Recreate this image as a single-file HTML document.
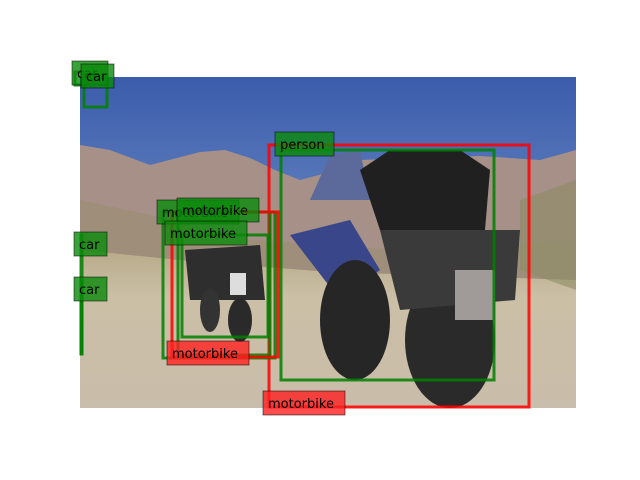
<!DOCTYPE html>
<html><head><meta charset="utf-8"><style>
html,body{margin:0;padding:0;background:#fff;width:640px;height:480px;overflow:hidden}
svg{display:block}
text{font-family:"DejaVu Sans","Liberation Sans",sans-serif;font-size:13px;fill:#000}
</style></head><body>
<svg id="chart" width="640" height="480">
<defs>
<linearGradient id="sky" x1="0" y1="0" x2="0" y2="1">
<stop offset="0" stop-color="#3a5cab"/><stop offset="1" stop-color="#94add8"/></linearGradient>
<linearGradient id="gnd" x1="0" y1="0" x2="0" y2="1">
<stop offset="0" stop-color="#b8ab8a"/><stop offset="0.3" stop-color="#cbbfa6"/><stop offset="1" stop-color="#c9bdab"/></linearGradient>
</defs>
<g>
<rect x="80" y="77" width="496" height="331" fill="url(#sky)"/>
<path d="M80,145 L110,150 L150,165 L200,152 L225,150 L250,158 L275,170 L300,180 L330,172 L360,160 L420,158 L480,156 L540,160 L576,150 L576,300 L80,300 Z" fill="#a69088"/>
<path d="M80,200 L150,215 L250,240 L400,250 L576,240 L576,300 L80,300 Z" fill="#9e8e7a"/>
<path d="M80,250 L200,262 L330,272 L576,280 L576,408 L80,408 Z" fill="url(#gnd)"/>
<path d="M520,200 L576,180 L576,290 L520,270 Z" fill="#8d8c66" opacity="0.6"/>
<g>
<path d="M310,200 L330,155 L360,150 L370,200 Z" fill="#5b6a9a"/>
<path d="M360,170 L390,150 L460,150 L490,170 L485,230 L380,230 Z" fill="#202020"/>
<path d="M290,235 L350,220 L380,270 L340,300 Z" fill="#3a468a"/>
<ellipse cx="355" cy="320" rx="35" ry="60" fill="#262626"/>
<ellipse cx="450" cy="340" rx="45" ry="68" fill="#2a2a2a"/>
<path d="M380,230 L520,230 L515,300 L400,310 Z" fill="#3a3a3a"/>
<rect x="455" y="270" width="40" height="50" fill="#a09a98"/>
</g>
<g>
<path d="M185,250 L260,245 L265,300 L190,300 Z" fill="#2e2e2e"/>
<ellipse cx="240" cy="320" rx="12" ry="22" fill="#2a2a2a"/>
<ellipse cx="210" cy="310" rx="10" ry="22" fill="#333"/>
<rect x="230" y="273" width="16" height="22" fill="#ddd"/>
</g>
</g>
<g id="boxes"></g>
</svg>
<script>
const labels=["car","car","motorbike","person","motorbike","motorbike","motorbike","motorbike","car","car"];
const colors=["g","g","r","g","g","g","r","g","g","g"];
const x0=[75,84,269,281,163,178,172,182,81,81];
const y0=[72,75,145,150,212,212,212,235,235,280];
const x1=[85,107,529,494,275,270,278,268,81,81];
const y1=[85,107,407,380,358,355,357,337,354,354];
const lx=[72,81,263,275,157,177,167,165,74,74];
const ly=[61,64,391,132,200,198,341,221,232,277];
const lw=[36,33,82,59,82,82,82,82,33,33];
const g=document.getElementById('boxes');
const NS='http://www.w3.org/2000/svg';
for(let i=0;i<labels.length;i++){
  const c=colors[i]==='r'?'#ff0000':'#008000';
  const r=document.createElementNS(NS,'rect');
  r.setAttribute('x',x0[i]);r.setAttribute('y',y0[i]);
  r.setAttribute('width',Math.max(1,x1[i]-x0[i]));r.setAttribute('height',y1[i]-y0[i]);
  r.setAttribute('fill','none');r.setAttribute('stroke',c);r.setAttribute('stroke-width','3');r.setAttribute('opacity','0.85');
  
  
  g.appendChild(r);
}
for(let i=0;i<labels.length;i++){
  const c=colors[i]==='r'?'#ff2020':'#0a8a0a';
  const b=document.createElementNS(NS,'rect');
  b.setAttribute('x',lx[i]);b.setAttribute('y',ly[i]);b.setAttribute('width',lw[i]);b.setAttribute('height',24);
  b.setAttribute('fill',c);b.setAttribute('fill-opacity','0.8');b.setAttribute('stroke','#000');b.setAttribute('stroke-opacity','0.5');
  
  
  g.appendChild(b);
  const t=document.createElementNS(NS,'text');
  t.setAttribute('x',lx[i]+5);t.setAttribute('y',ly[i]+17);
  t.textContent=labels[i];
  
  
  g.appendChild(t);
}
</script>
</body></html>
